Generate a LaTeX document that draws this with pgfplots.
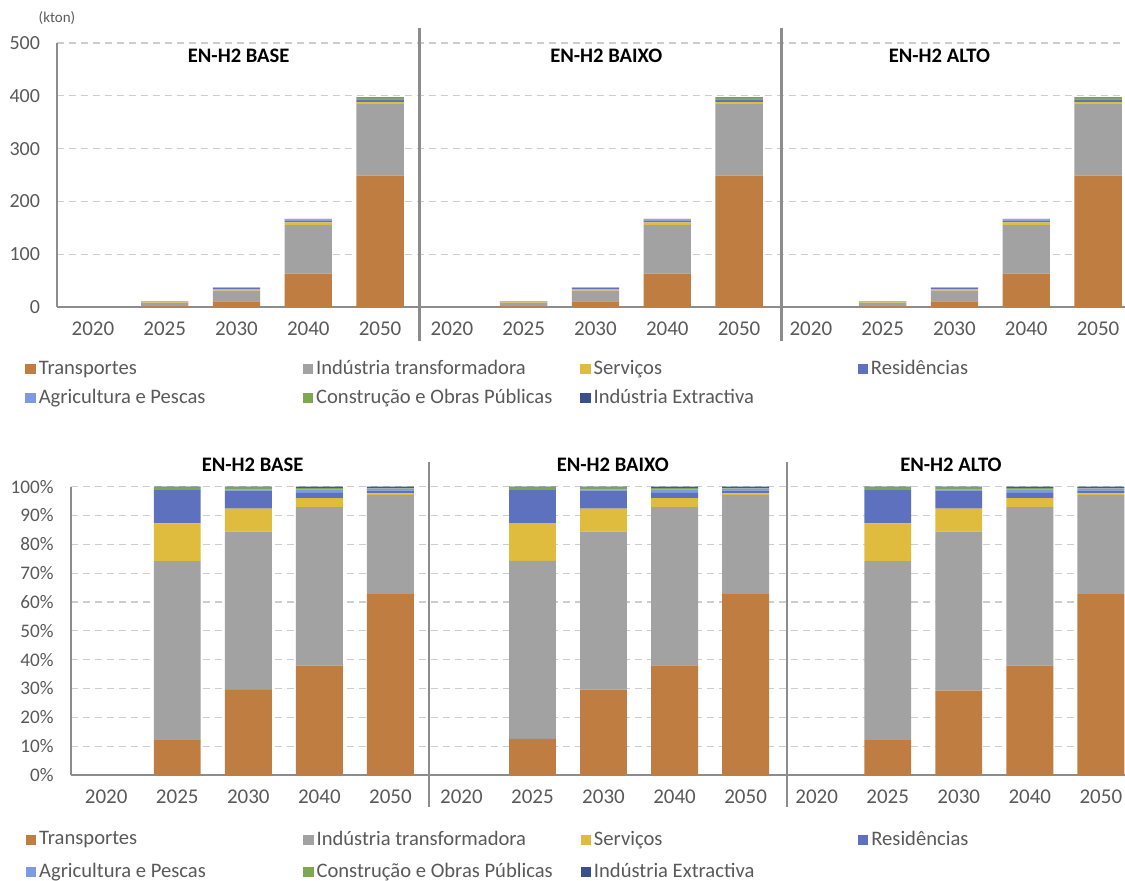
\documentclass[border=0pt]{standalone}
\usepackage{fontspec}
\setmainfont{Carlito}
\usepackage{pgfplots}
\pgfplotsset{compat=1.18}
\usepackage{pgfplotstable}

\definecolor{ctr}{RGB}{192,125,65}
\definecolor{cind}{RGB}{162,162,162}
\definecolor{cserv}{RGB}{224,188,62}
\definecolor{cres}{RGB}{93,113,190}
\definecolor{cagr}{RGB}{125,155,222}
\definecolor{ccon}{RGB}{125,168,80}
\definecolor{cext}{RGB}{58,80,140}
\definecolor{axgray}{RGB}{140,140,140}
\definecolor{lblgray}{RGB}{89,89,89}
\definecolor{gridgray}{RGB}{205,205,205}

% absolute values (kton)
\pgfplotstableread{
x tr ind serv res agr con ext
0 0 0 0 0 0 0 0
1 1.2 6.2 1.3 1.15 0.02 0.08 0.03
2 10.8 20.1 2.9 2.3 0.15 0.25 0.1
3 63.3 91.9 5.2 3.2 1.8 1.0 0.7
4 249 136.6 2.4 3.6 2.8 1.0 1.6
5 0 0 0 0 0 0 0
6 1.2 6.2 1.3 1.15 0.02 0.08 0.03
7 10.8 20.1 2.9 2.3 0.15 0.25 0.1
8 63.3 91.9 5.2 3.2 1.8 1.0 0.7
9 249 136.6 2.4 3.6 2.8 1.0 1.6
10 0 0 0 0 0 0 0
11 1.2 6.2 1.3 1.15 0.02 0.08 0.03
12 10.8 20.1 2.9 2.3 0.15 0.25 0.1
13 63.3 91.9 5.2 3.2 1.8 1.0 0.7
14 249 136.6 2.4 3.6 2.8 1.0 1.6
}\abstab

% shares (%)
\pgfplotstableread{
x tr ind serv res agr con ext
0 0 0 0 0 0 0 0
1 12.1 62.1 13.1 11.5 0.1 0.8 0.3
2 29.5 54.9 8.0 6.2 0.4 0.7 0.3
3 37.9 55.0 3.1 1.9 1.1 0.6 0.4
4 62.7 34.4 0.6 0.9 0.7 0.3 0.4
5 0 0 0 0 0 0 0
6 12.5 61.8 13.1 11.4 0.1 0.8 0.3
7 29.6 54.8 8.0 6.2 0.4 0.7 0.3
8 38.0 54.9 3.1 1.9 1.1 0.6 0.4
9 62.7 34.4 0.6 0.9 0.7 0.3 0.4
10 0 0 0 0 0 0 0
11 12.1 62.1 13.1 11.5 0.1 0.8 0.3
12 29.3 55.1 8.0 6.2 0.4 0.7 0.3
13 37.9 55.0 3.1 1.9 1.1 0.6 0.4
14 62.7 34.4 0.6 0.9 0.7 0.3 0.4
}\pcttab

\pgfplotsset{
  mypanel/.style={
    ybar stacked, bar width=0.66,
    scale only axis,
    xmin=-0.5,
    xtick={0,...,14},
    xticklabels={2020,2025,2030,2040,2050,2020,2025,2030,2040,2050,2020,2025,2030,2040,2050},
    axis x line=bottom, axis y line=left,
    axis line style={-, draw=axgray, line width=1.1pt},
    major tick length=0pt,
    ymajorgrids,
    grid style={dash pattern=on 3.5pt off 2.5pt, gridgray, line width=0.6pt},
    /pgf/number format/assume math mode=true,
    xticklabel style={font=\fontsize{10.5}{12}\selectfont, text=lblgray, yshift=-4pt},
    yticklabel style={text=lblgray, xshift=-5pt},
    clip=false,
    legend columns=4,
    legend cell align=left,
    legend image code/.code={\fill[##1,draw=none] (0pt,-2.6pt) rectangle (5.2pt,2.6pt);},
    legend style={draw=none, fill=none, inner sep=0pt, font=\fontsize{10.3}{12}\selectfont,
      text=lblgray, nodes={inner sep=1.5pt}, /tikz/every odd column/.append style={column sep=0pt}},
  },
}

\newcommand{\legw}[1]{\makebox[130.5pt][l]{#1}}

\begin{document}
\begin{tikzpicture}
\useasboundingbox (0,0) rectangle (562.5pt,-440.5pt);

% ---------- top panel ----------
\begin{axis}[mypanel,
  at={(28.5pt,-153.5pt)}, anchor=south west,
  width=534pt, height=132pt,
  xmax=14.375, ymin=0, ymax=500,
  ytick={0,100,...,500},
  yticklabel style={font=\fontsize{10}{12}\selectfont},
  legend style={at={(axis description cs:-0.03,-0.189)}, anchor=north west, row sep=3pt},
]
\addplot[fill=ctr,draw=none] table[x=x,y=tr]{\abstab};
\addplot[fill=cind,draw=none] table[x=x,y=ind]{\abstab};
\addplot[fill=cserv,draw=none] table[x=x,y=serv]{\abstab};
\addplot[fill=cres,draw=none] table[x=x,y=res]{\abstab};
\addplot[fill=cagr,draw=none] table[x=x,y=agr]{\abstab};
\addplot[fill=ccon,draw=none] table[x=x,y=con]{\abstab};
\addplot[fill=cext,draw=none] table[x=x,y=ext]{\abstab};
\legend{\legw{Transportes},\legw{Indústria transformadora},\legw{Serviços},\legw{Residências},
        \legw{Agricultura e Pescas},\legw{Construção e Obras Públicas},\legw{Indústria Extractiva}}
\draw[axgray, line width=1.1pt] (axis cs:4.55,528) -- (axis cs:4.55,-64);
\draw[axgray, line width=1.1pt] (axis cs:9.59,528) -- (axis cs:9.59,-64);
\node[font=\bfseries\fontsize{10.3}{12}\selectfont] at (axis cs:2.03,475) {EN-H2 BASE};
\node[font=\bfseries\fontsize{10.3}{12}\selectfont] at (axis cs:7.15,475) {EN-H2 BAIXO};
\node[font=\bfseries\fontsize{10.3}{12}\selectfont] at (axis cs:11.79,475) {EN-H2 ALTO};
\node[font=\fontsize{7.5}{9}\selectfont, text=lblgray] at (axis cs:-0.5,548) {(kton)};
\end{axis}

% ---------- bottom panel ----------
\begin{axis}[mypanel,
  at={(35.35pt,-387.5pt)}, anchor=south west,
  width=527.15pt, height=144.15pt,
  xmax=14.34, ymin=0, ymax=100,
  ytick={0,10,...,100},
  yticklabel={\pgfmathprintnumber{\tick}\%},
  yticklabel style={font=\fontsize{9.6}{12}\selectfont},
  legend style={at={(axis description cs:-0.043,-0.183)}, anchor=north west, row sep=4.5pt},
]
\addplot[fill=ctr,draw=none] table[x=x,y=tr]{\pcttab};
\addplot[fill=cind,draw=none] table[x=x,y=ind]{\pcttab};
\addplot[fill=cserv,draw=none] table[x=x,y=serv]{\pcttab};
\addplot[fill=cres,draw=none] table[x=x,y=res]{\pcttab};
\addplot[fill=cagr,draw=none] table[x=x,y=agr]{\pcttab};
\addplot[fill=ccon,draw=none] table[x=x,y=con]{\pcttab};
\addplot[fill=cext,draw=none] table[x=x,y=ext]{\pcttab};
\legend{\legw{Transportes},\legw{Indústria transformadora},\legw{Serviços},\legw{Residências},
        \legw{Agricultura e Pescas},\legw{Construção e Obras Públicas},\legw{Indústria Extractiva}}
\draw[axgray, line width=1.1pt] (axis cs:4.54,108.6) -- (axis cs:4.54,-11.1);
\draw[axgray, line width=1.1pt] (axis cs:9.58,108.6) -- (axis cs:9.58,-11.1);
\node[font=\bfseries\fontsize{10.3}{12}\selectfont] at (axis cs:2.06,107.5) {EN-H2 BASE};
\node[font=\bfseries\fontsize{10.3}{12}\selectfont] at (axis cs:7.13,107.5) {EN-H2 BAIXO};
\node[font=\bfseries\fontsize{10.3}{12}\selectfont] at (axis cs:11.89,107.5) {EN-H2 ALTO};
\end{axis}
\end{tikzpicture}
\end{document}
